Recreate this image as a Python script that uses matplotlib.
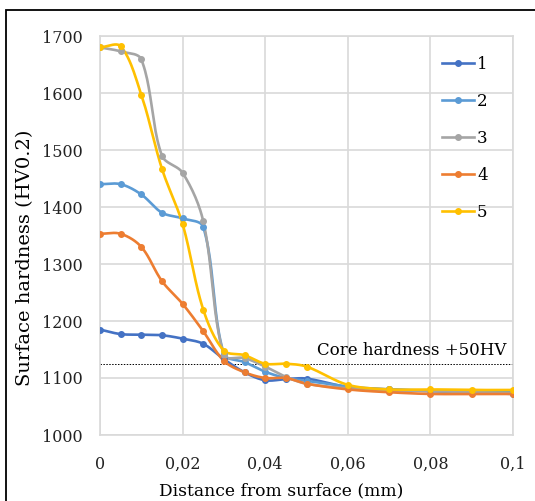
import numpy as np
import matplotlib
matplotlib.use("Agg")
import matplotlib.pyplot as plt
from matplotlib.patches import Rectangle
from matplotlib.ticker import FuncFormatter

# datos
distancia = [0, 0.005, 0.01, 0.015, 0.02, 0.025, 0.03, 0.035, 0.04, 0.045,
             0.05, 0.06, 0.07, 0.08, 0.09, 0.1]
serie_1 = [1185, 1177, 1176, 1175, 1169, 1160, 1133, 1110, 1096, 1098,
           1099, 1084, 1080, 1077, 1075, 1072]
serie_2 = [1440, 1440, 1422, 1390, 1380, 1365, 1142, 1128, 1111, 1100,
           1095, 1085, 1080, 1078, 1076, 1075]
serie_3 = [1680, 1673, 1659, 1490, 1460, 1375, 1140, 1135, 1120, 1102,
           1090, 1082, 1078, 1077, 1075, 1073]
serie_4 = [1353, 1353, 1330, 1270, 1230, 1182, 1130, 1110, 1100, 1100,
           1090, 1080, 1075, 1072, 1072, 1072]
serie_5 = [1680, 1682, 1597, 1467, 1370, 1220, 1148, 1140, 1125, 1125,
           1120, 1088, 1080, 1080, 1079, 1079]
nombres = ["1", "2", "3", "4", "5"]
colores = ["#4472C4", "#5B9BD5", "#A5A5A5", "#ED7D31", "#FFC000"]
core = 1125

plt.rcParams["font.family"] = ["DejaVu Serif"]

# escala aprox. en pixeles, para suavizar como Excel
SX = 413 / 0.1
SY = 399 / 700


def suavizar(x, y, n=24):
    # curva suave tipo Excel: Bezier, tangente pesada por largo de tramos
    P = np.column_stack([np.asarray(x, float) * SX, np.asarray(y, float) * SY])
    m = len(P)
    xs, ys = [], []
    for i in range(m - 1):
        p0 = P[max(i - 1, 0)]
        p1 = P[i]
        p2 = P[i + 1]
        p3 = P[min(i + 2, m - 1)]
        d01 = np.hypot(*(p1 - p0))
        d12 = np.hypot(*(p2 - p1))
        d23 = np.hypot(*(p3 - p2))
        f1 = d12 / (d01 + d12) / 3 if d01 + d12 > 0 else 0
        f2 = d12 / (d12 + d23) / 3 if d12 + d23 > 0 else 0
        c1 = p1 + (p2 - p0) * f1
        c2 = p2 - (p3 - p1) * f2
        t = np.linspace(0, 1, n)[:, None]
        pts = ((1 - t) ** 3 * p1 + 3 * (1 - t) ** 2 * t * c1
               + 3 * (1 - t) * t ** 2 * c2 + t ** 3 * p2)
        xs.extend(pts[:, 0] / SX)
        ys.extend(pts[:, 1] / SY)
    return xs, ys


fig = plt.figure(figsize=(5.35, 5.01), dpi=100)
ax = fig.add_axes([100 / 535, 1 - 435 / 501, 413 / 535, 399 / 501])

series = [serie_1, serie_2, serie_3, serie_4, serie_5]
for vals, nom, col in zip(series, nombres, colores):
    xs, ys = suavizar(distancia, vals)
    ax.plot(xs, ys, color=col, lw=1.9, zorder=3)
    ax.plot(distancia, vals, "o", color=col, ms=4, zorder=4)
    ax.plot([], [], color=col, lw=1.9, marker="o", ms=4, label=nom)

ax.axhline(core, color="black", lw=0.7, ls=(0, (1.5, 1.5)), zorder=2)
ax.text(0.0985, core + 8, "Core hardness +50HV", ha="right", va="bottom",
        fontsize=12)

ax.set_xlim(0, 0.1)
ax.set_ylim(1000, 1700)
ax.set_xticks(np.arange(0, 0.1001, 0.02))
ax.set_yticks(range(1000, 1701, 100))
ax.xaxis.set_major_formatter(FuncFormatter(
    lambda v, p: "0" if v == 0 else ("%g" % round(v, 3)).replace(".", ",")))
ax.tick_params(length=0, labelsize=11.5, colors="#222222")
ax.tick_params(axis="x", pad=15)
ax.tick_params(axis="y", pad=12.5)
ax.grid(True, color="#D9D9D9", lw=1.2)
ax.set_axisbelow(True)
for s in ax.spines.values():
    s.set_color("#D9D9D9")
    s.set_linewidth(1.2)

ax.set_xlabel("Distance from surface (mm)", fontsize=12.3)
ax.xaxis.set_label_coords((281 - 100) / 413, -0.118)
ax.set_ylabel("Surface hardness (HV0.2)", fontsize=14)
ax.yaxis.set_label_coords(-0.16, (435 - 258) / 399)

leg = ax.legend(loc="upper right", bbox_to_anchor=(0.955, 0.967), frameon=False,
                fontsize=12, handlelength=1.9, labelspacing=1.2,
                handletextpad=0.2, borderaxespad=0)

# marco negro del recuadro
fig.patches.append(Rectangle((6 / 535, -0.05), 1.1, 1 - 10 / 501 + 0.05,
                             transform=fig.transFigure, fill=False,
                             edgecolor="black", lw=1.3))

fig.savefig("out.png", dpi=100)
